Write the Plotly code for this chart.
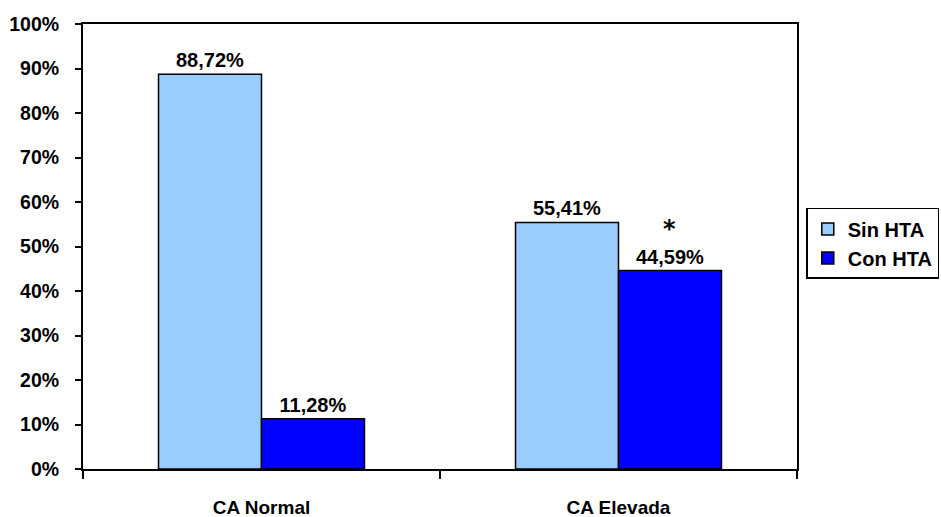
import plotly.graph_objects as go

categories = ["CA Normal", "CA Elevada"]
sin_hta = [88.72, 55.41]
con_hta = [11.28, 44.59]
sin_labels = ["88,72%", "55,41%"]
con_labels = ["11,28%", "44,59%"]
series_names = ["Sin HTA", "Con HTA"]
y_tick_vals = [0, 10, 20, 30, 40, 50, 60, 70, 80, 90, 100]
y_tick_text = ["0%", "10%", "20%", "30%", "40%", "50%", "60%", "70%", "80%", "90%", "100%"]

FONT = "Liberation Sans, Arial, sans-serif"

fig = go.Figure()
fig.add_trace(go.Bar(
    x=categories, y=sin_hta, name=series_names[0],
    marker=dict(color="#99CCFF", line=dict(color="black", width=1.5)),
    text=sin_labels, textposition="outside", cliponaxis=False,
    textfont=dict(family=FONT, size=20, color="black", weight="bold"),
))
fig.add_trace(go.Bar(
    x=categories, y=con_hta, name=series_names[1],
    marker=dict(color="#0000FF", line=dict(color="black", width=1.5)),
    text=con_labels, textposition="outside", cliponaxis=False,
    textfont=dict(family=FONT, size=20, color="black", weight="bold"),
))

fig.add_annotation(
    x=categories[1], y=con_hta[1], xref="x", yref="y",
    text="*", showarrow=False, xshift=51, yshift=42,
    font=dict(family="DejaVu Sans, sans-serif", size=24, color="black", weight="bold"),
)

fig.update_layout(
    width=941, height=517,
    margin=dict(l=83, r=144, t=24, b=48, autoexpand=False),
    paper_bgcolor="white", plot_bgcolor="white",
    barmode="group", bargap=0.423, bargroupgap=0,
    font=dict(family=FONT, size=19, color="black"),
    showlegend=True,
    legend=dict(
        x=1.013, y=0.507, xanchor="left", yanchor="middle",
        bordercolor="black", borderwidth=1.5, bgcolor="white",
        font=dict(family=FONT, size=20, color="black", weight="bold"),
        tracegroupgap=5, itemwidth=30,
    ),
)

fig.update_xaxes(
    showline=True, linecolor="black", linewidth=2, mirror=True,
    ticks="outside", ticklen=8, tickcolor="black", tickwidth=1.5,
    tickson="boundaries", showgrid=False, automargin=False,
    tickfont=dict(family=FONT, size=19, color="black", weight="bold"),
    ticklabelstandoff=20,
)
fig.update_yaxes(
    range=[0, 100], tickvals=y_tick_vals, ticktext=y_tick_text,
    showline=True, linecolor="black", linewidth=2, mirror=True,
    ticks="outside", ticklen=6, tickcolor="black", tickwidth=1.5,
    showgrid=False, zeroline=False, automargin=False,
    tickfont=dict(family=FONT, size=19.5, color="black", weight="bold"),
    ticklabelstandoff=12,
)

fig.write_html("out.html")
